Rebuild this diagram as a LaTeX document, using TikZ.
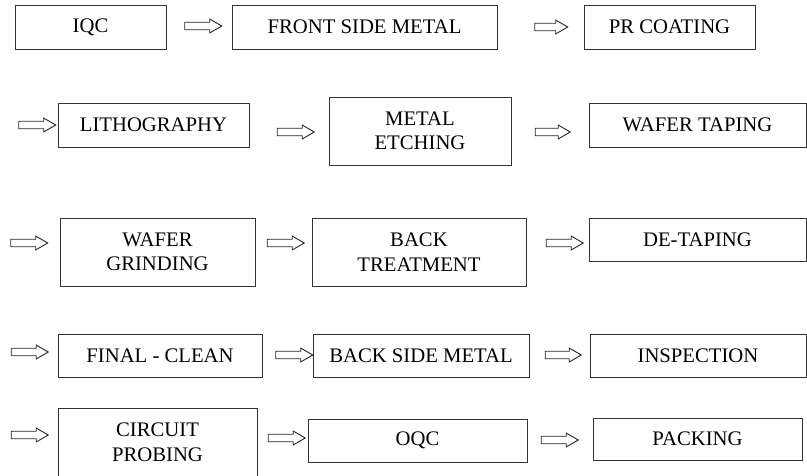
\documentclass[tikz,border=0pt]{standalone}
\usepackage{fontspec}
\setmainfont{Liberation Serif}
\usepackage{tikz}
\usetikzlibrary{positioning,shapes.arrows}

\tikzset{
  stepbox/.style={draw=black!80,line width=0.9pt,inner sep=0pt,align=center,
    minimum height=44pt,font=\fontsize{20.7}{24.5}\selectfont},
  tallbox/.style={stepbox,minimum height=68pt},
  flowarrow/.style={single arrow,draw=black!85,line width=0.9pt,inner sep=3.3pt,
    minimum height=37pt,minimum width=13pt,single arrow head extend=3.2pt,
    single arrow tip angle=60},
}

\begin{document}
\begin{tikzpicture}[x=1pt,y=-1pt]
    \useasboundingbox (0,0) rectangle (807,475);
    % row 1
    \node[stepbox,minimum width=151pt] (IQC) at (90.5,27) {IQC};
    \node[flowarrow] (a1) at (200,26) {};
    \node[stepbox,minimum width=265pt] (FrontMetal) at (364.5,27) {FRONT SIDE METAL};
    \node[flowarrow,minimum height=33pt] (a2) at (548,27) {};
    \node[stepbox,minimum width=171pt] (PRCoat) at (669.5,27) {PR COATING};
    % row 2
    \node[flowarrow] (a3) at (34,125) {};
    \node[stepbox,minimum width=191pt] (Litho) at (153.5,125) {LITHOGRAPHY};
    \node[flowarrow] (a4) at (292.5,132) {};
    \node[tallbox,minimum width=182pt] (Etch) at (420,131) {METAL\\ETCHING};
    \node[flowarrow,minimum height=35pt] (a5) at (549.5,132) {};
    \node[stepbox,minimum width=217pt] (Taping) at (697.5,125) {WAFER TAPING};
    % row 3
    \node[flowarrow] (a6) at (26,243) {};
    \node[tallbox,minimum width=195pt] (Grind) at (157.5,252) {WAFER\\GRINDING};
    \node[flowarrow] (a7) at (282.5,243) {};
    \node[tallbox,minimum width=214pt] (BackTreat) at (419,252) {BACK\\TREATMENT};
    \node[flowarrow] (a8) at (561.5,243) {};
    \node[stepbox,minimum width=217pt,minimum height=43pt] (DeTaping) at (697.5,239.5) {DE-TAPING};
    % row 4
    \node[flowarrow] (a9) at (26.5,352) {};
    \node[stepbox,minimum width=204pt,minimum height=43pt] (Clean) at (160,355.5) {FINAL - CLEAN};
    \node[flowarrow] (a10) at (291,355) {};
    \node[stepbox,minimum width=216pt,minimum height=43pt] (BackMetal) at (421,355.5) {BACK SIDE METAL};
    \node[flowarrow,minimum height=36pt] (a11) at (560,355) {};
    \node[stepbox,minimum width=216pt,minimum height=43pt] (Inspect) at (698,355.5) {INSPECTION};
    % row 5
    \node[flowarrow] (a12) at (26.5,435) {};
    \node[tallbox,minimum width=199pt] (Probe) at (157.5,442) {CIRCUIT\\PROBING};
    \node[flowarrow] (a13) at (283.5,438) {};
    \node[stepbox,minimum width=219pt,minimum height=43pt] (OQC) at (417.5,440.5) {OQC};
    \node[flowarrow] (a14) at (556.5,440) {};
    \node[stepbox,minimum width=209pt,minimum height=42pt] (Pack) at (697.5,439) {PACKING};
\end{tikzpicture}
\end{document}
